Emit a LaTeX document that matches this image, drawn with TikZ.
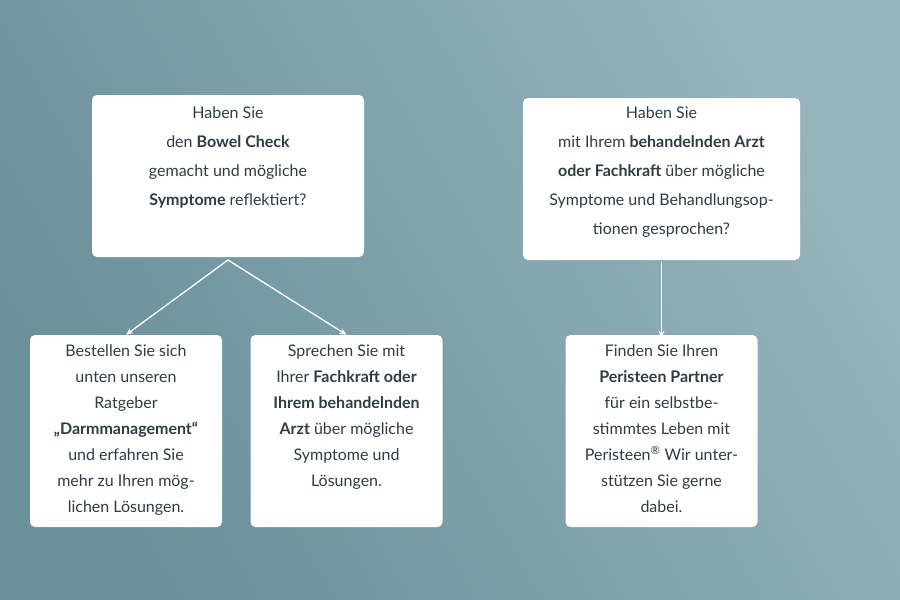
\documentclass[tikz,border=0pt]{standalone}
\usepackage{fontspec}
\setmainfont{Lato}
\usetikzlibrary{arrows.meta}
\begin{document}
\begin{tikzpicture}[x=1pt,y=-1pt,
 box/.style={fill=white,rounded corners=5pt,draw=none},
 txt/.style={align=center,text=tc,font=\fontsize{16}{29}\selectfont,anchor=north},
 txs/.style={align=center,text=tc,font=\fontsize{16}{26}\selectfont,anchor=north},
 con/.style={draw=white,line width=1.3pt,-{Stealth[length=7pt,width=6pt,open]}}]
\definecolor{tc}{HTML}{2E3D44}
\definecolor{bgl}{HTML}{6A909A}
\definecolor{bgr}{HTML}{95B4BB}
\shade[left color=bgl,right color=bgr,shading angle=120] (0,0) rectangle (900,600);
\useasboundingbox (0,0) rectangle (900,600);
\node[box,minimum width=272pt,minimum height=162pt] (a) at (228,176) {};
\node[txt] at (228,103) {Haben Sie\\den \textbf{Bowel Check}\\gemacht und mögliche\\\textbf{Symptome} reflektiert?};
\node[box,minimum width=277pt,minimum height=162pt] (b) at (661.5,179) {};
\node[txt] at (661.5,103) {Haben Sie\\mit Ihrem \textbf{behandelnden Arzt}\\\textbf{oder Fachkraft} über mögliche\\Symptome und Behandlungsop-\\tionen gesprochen?};
\node[box,minimum width=192pt,minimum height=192pt] (c) at (126,431) {};
\node[txs] at (126,341) {Bestellen Sie sich\\unten unseren\\Ratgeber\\\textbf{„Darmmanagement“}\\und erfahren Sie\\mehr zu Ihren mög-\\lichen Lösungen.};
\node[box,minimum width=192pt,minimum height=192pt] (d) at (346.5,431) {};
\node[txs] at (346.5,341) {Sprechen Sie mit\\Ihrer \textbf{Fachkraft oder}\\\textbf{Ihrem behandelnden}\\\textbf{Arzt} über mögliche\\Symptome und\\Lösungen.};
\node[box,minimum width=192pt,minimum height=192pt] (e) at (661.5,431) {};
\node[txs] at (661.5,341) {Finden Sie Ihren\\\textbf{Peristeen Partner}\\für ein selbstbe-\\stimmtes Leben mit\\Peristeen\textsuperscript{®} Wir unter-\\stützen Sie gerne\\dabei.};
\coordinate (as) at (228,260);
\draw[con] (as) -- (c.north);
\draw[con] (as) -- (d.north);
\draw[con] (b.south) ++(0,2) -- ([yshift=-3pt]e.north);
\end{tikzpicture}
\end{document}
